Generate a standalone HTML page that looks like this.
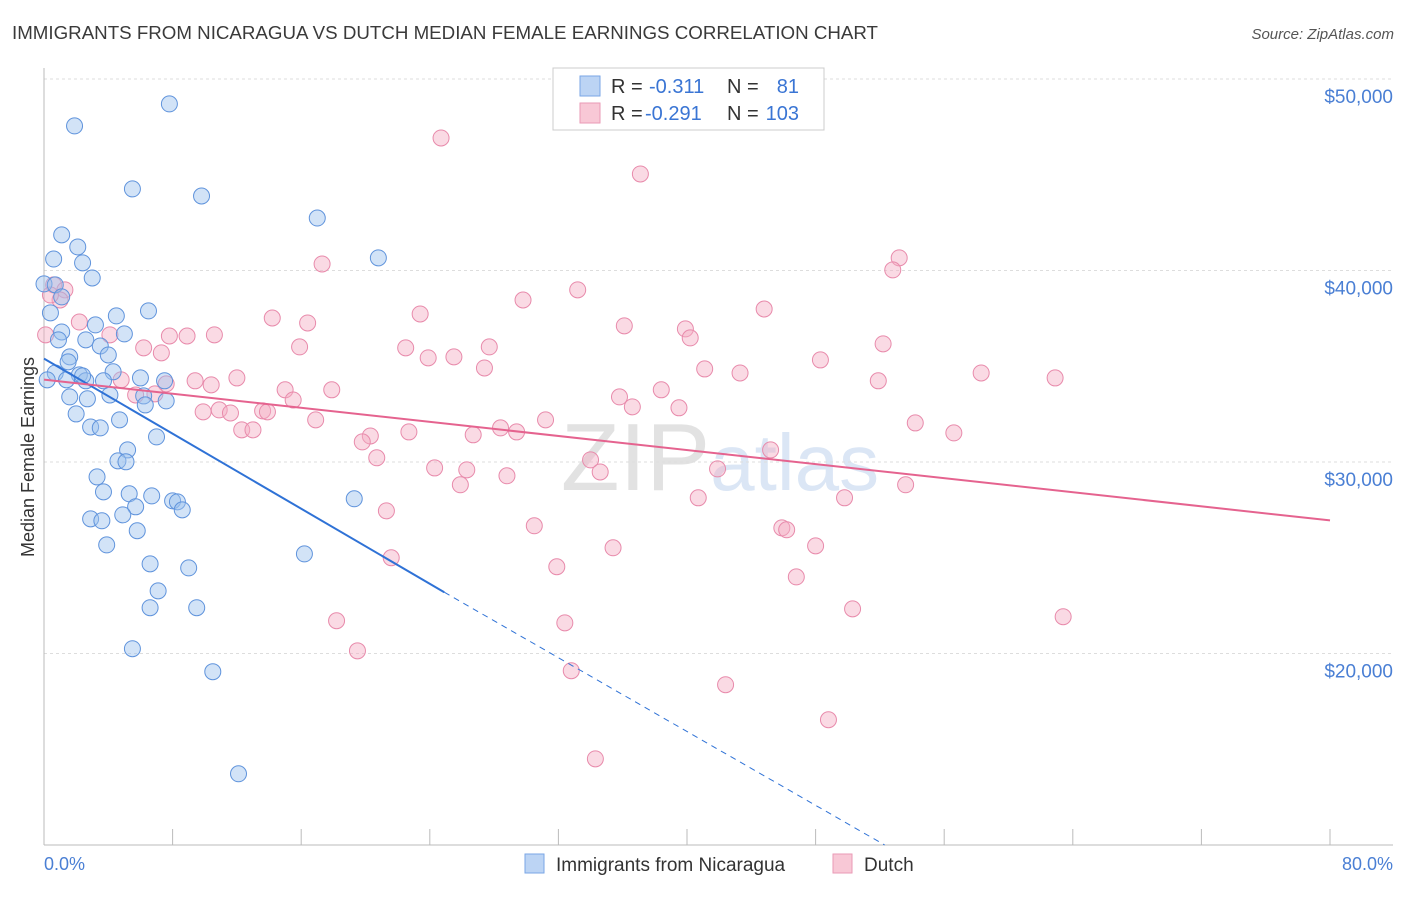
<!DOCTYPE html>
<html><head><meta charset="utf-8"><style>
body{margin:0;background:#fff;font-family:"Liberation Sans",sans-serif;}
svg text{font-family:"Liberation Sans",sans-serif;}
</style></head><body>
<svg id="chart" width="1406" height="892" viewBox="0 0 1406 892" xmlns="http://www.w3.org/2000/svg">
<text x="12" y="39" font-size="18" fill="#3a3a3a" textLength="866" lengthAdjust="spacingAndGlyphs">IMMIGRANTS FROM NICARAGUA VS DUTCH MEDIAN FEMALE EARNINGS CORRELATION CHART</text>
<text x="1394" y="39" font-size="15" fill="#555" text-anchor="end" font-style="italic">Source: ZipAtlas.com</text>
<text x="720" y="490" font-size="96" fill="#e6e6e6" text-anchor="middle" font-family="Liberation Serif"><tspan fill="#e2e2e2">ZIP</tspan><tspan fill="#dbe6f5" font-family="Liberation Sans" font-size="80">atlas</tspan></text>
<g id="grid"></g>
<g id="axes"></g>
<g id="marks"></g>
<text transform="translate(34,457) rotate(-90)" font-size="18" fill="#333" text-anchor="middle">Median Female Earnings</text>
<text x="44" y="870" font-size="18" fill="#4a7fd4">0.0%</text>
<text x="1393" y="870" font-size="18" fill="#4a7fd4" text-anchor="end">80.0%</text>
<g>
<rect x="553" y="68" width="271" height="62" fill="#fff" stroke="#ccc"/>
<rect x="580" y="76" width="20" height="20" fill="#bcd4f4" stroke="#7aa6e6"/>
<rect x="580" y="103" width="20" height="20" fill="#f8c8d6" stroke="#ea9ab6"/>
<text x="611" y="93" font-size="20" fill="#333">R =</text>
<text x="649" y="93" font-size="20" fill="#3a75d4">-0.311</text>
<text x="727" y="93" font-size="20" fill="#333">N =</text>
<text x="799" y="93" font-size="20" fill="#3a75d4" text-anchor="end">81</text>
<text x="611" y="120" font-size="20" fill="#333">R =</text>
<text x="645" y="120" font-size="20" fill="#3a75d4">-0.291</text>
<text x="727" y="120" font-size="20" fill="#333">N =</text>
<text x="799" y="120" font-size="20" fill="#3a75d4" text-anchor="end">103</text>
</g>
<g>
<rect x="525" y="854" width="19" height="19" fill="#bcd4f4" stroke="#7aa6e6"/>
<text x="556" y="871" font-size="19" fill="#333">Immigrants from Nicaragua</text>
<rect x="833" y="854" width="19" height="19" fill="#f8c8d6" stroke="#ea9ab6"/>
<text x="864" y="871" font-size="19" fill="#333">Dutch</text>
</g>
</svg>
<script>
const yTicks=[20000,30000,40000,50000];
const yTickLabels=["$20,000","$30,000","$40,000","$50,000"];
const xTicks=[0,8,16,24,32,40,48,56,64,72,80];
const blueX=[7.8,1.9,5.5,9.8,17.0,1.1,2.1,0.6,2.4,20.8,3.0,0.0,0.7,1.1,6.5,4.5,0.4,3.2,5.0,1.1,2.6,3.5,4.0,1.6,1.5,0.7,2.2,4.3,1.4,2.6,6.0,7.5,3.7,4.1,1.6,6.2,2.7,7.6,6.3,2.0,4.7,2.9,3.5,7.0,5.2,4.6,5.1,3.3,3.7,5.3,6.7,19.3,8.0,8.3,5.7,8.6,4.9,2.9,3.6,5.8,3.9,16.2,6.6,9.0,7.1,6.6,9.5,5.5,10.5,12.1,0.9,2.4,0.2];
const blueY=[48700,47550,44260,43890,42740,41860,41230,40600,40400,40660,39610,39300,39250,38620,37890,37630,37790,37160,36690,36790,36380,36060,35590,35490,35230,34650,34550,34710,34290,34240,34390,34240,34240,33500,33400,33450,33300,33190,32980,32510,32200,31830,31780,31310,30630,30060,30010,29220,28440,28340,28230,28080,27970,27920,27660,27500,27240,27030,26930,26410,25670,25200,24680,24470,23270,22390,22390,20250,19050,13720,36380,34500,34290];
const pinkX=[24.7,37.1,53.2,52.8,17.3,29.8,33.2,0.6,1.3,1.0,2.2,14.2,23.4,44.8,16.4,36.1,39.9,40.2,8.9,6.2,7.8,7.3,10.6,15.9,22.5,27.7,52.2,23.9,25.5,27.4,41.1,43.3,48.3,58.3,62.9,51.9,12.0,9.4,10.4,7.6,4.8,5.7,6.9,15.0,17.9,15.5,35.8,38.4,9.9,10.9,11.6,13.6,13.9,16.9,31.2,36.6,39.5,12.3,13.0,20.3,19.8,22.7,26.7,28.4,29.4,54.2,56.6,45.2,20.7,24.3,26.3,34.0,34.6,41.9,25.9,28.8,40.7,49.8,53.6,21.3,30.5,45.9,46.2,48.0,35.4,21.6,31.9,46.8,50.3,63.4,18.2,32.4,19.5,32.8,42.4,48.8,34.3,0.4,0.1,4.1];
const pinkY=[46920,45040,40660,40030,40340,38460,38990,39250,38990,38460,37310,37520,37730,37990,37260,37110,36950,36480,36580,35960,36580,35700,36640,36010,35960,36010,36170,35440,35490,34910,34860,34650,35330,34650,34390,34240,34390,34240,34030,34080,34290,33500,33560,33770,33770,33240,33400,33770,32620,32720,32560,32670,32620,32200,32200,32880,32830,31680,31680,31360,31050,31570,31420,31780,31570,32040,31520,30630,30220,29690,29590,30110,29480,29640,28810,29280,28130,28130,28810,27450,26670,26560,26460,25620,25520,25000,24530,24000,22330,21920,21710,21600,20140,19100,18370,16540,14500,38720,36640,36640];
const blueTrend=[0,35400,24.9,23200,52.3,10000];
const pinkTrend=[0,34300,80,26950];
const NS="http://www.w3.org/2000/svg";
const X=v=>44+v/80*1286;
const Y=v=>79+(50000-v)*0.01915;
function mk(parent,tag,attrs){const e=document.createElementNS(NS,tag);for(const k in attrs)e.setAttribute(k,attrs[k]);document.getElementById(parent).appendChild(e);return e;}
yTicks.forEach((t,i)=>{
 const g=mk('grid','line',{x1:44,x2:1393,y1:Y(t),y2:Y(t),stroke:'#ddd','stroke-dasharray':'3,3'});
 
 
 const tx=mk('axes','text',{x:1393,y:Y(t)+24,'font-size':19,fill:'#4a7fd4','text-anchor':'end'});
 tx.textContent=yTickLabels[i];
 
 
});
const ya=mk('axes','line',{x1:44,x2:44,y1:68,y2:845,stroke:'#bbb'});


const xa=mk('axes','line',{x1:44,x2:1393,y1:845,y2:845,stroke:'#bbb'});


xTicks.forEach(t=>{
 const l=mk('axes','line',{x1:X(t),x2:X(t),y1:829,y2:845,stroke:'#bbb'});
 
 
});
function pts(xs,ys,fill,stroke,name){
 xs.forEach((x,i)=>{
  const c=mk('marks','circle',{cx:X(x),cy:Y(ys[i]),r:8,fill:fill,'fill-opacity':0.45,stroke:stroke,'stroke-width':1});
  
  
 });
}
pts(pinkX,pinkY,'#f4adc4','#e88aab','dutch-point');
pts(blueX,blueY,'#9cc0ee','#5f93dc','nicaragua-point');
const b1=mk('marks','line',{x1:X(blueTrend[0]),y1:Y(blueTrend[1]),x2:X(blueTrend[2]),y2:Y(blueTrend[3]),stroke:'#2f72d6','stroke-width':2});


const b2=mk('marks','line',{x1:X(blueTrend[2]),y1:Y(blueTrend[3]),x2:X(blueTrend[4]),y2:Y(blueTrend[5]),stroke:'#2f72d6','stroke-width':1,'stroke-dasharray':'6,5'});


const p1=mk('marks','line',{x1:X(pinkTrend[0]),y1:Y(pinkTrend[1]),x2:X(pinkTrend[2]),y2:Y(pinkTrend[3]),stroke:'#e5638f','stroke-width':2});


</script>
</body></html>
